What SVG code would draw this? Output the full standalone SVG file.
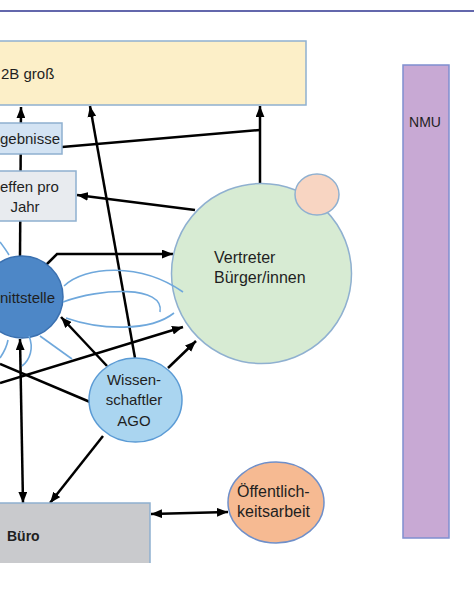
<svg xmlns="http://www.w3.org/2000/svg" width="474" height="608" viewBox="0 0 474 608">
<defs>
<marker id="ah" viewBox="0 0 10 8" refX="10" refY="4" markerWidth="11" markerHeight="9" markerUnits="userSpaceOnUse" orient="auto-start-reverse">
<path d="M0,0 L10,4 L0,8 Z" fill="#000"/>
</marker>
</defs>
<style>
text{font-family:"Liberation Sans",Arial,sans-serif;font-size:15px;fill:#1f1f1f}
.c{fill:none;stroke:#000;stroke-width:2.5}
.a{marker-end:url(#ah)}
.ab{marker-start:url(#ah);marker-end:url(#ah)}
.f{fill:none;stroke:#6fa8dc;stroke-width:1.6}
.bd{stroke:#8fb0d0;stroke-width:1.5}
.l{font-size:16px}
</style>
<rect width="474" height="608" fill="#fff"/>
<line x1="0" y1="11" x2="474" y2="11" stroke="#2f3590" stroke-width="1.6"/>
<g id="connectors">
<path class="c a" d="M20,257 L21,107"/>
<path class="c a" d="M260,184 L260,106"/>
<path class="c" d="M62,147 L260,130"/>
<path class="c a" d="M135,358 L90,106"/>
<path class="c a" d="M195,210 L77,195"/>
<path class="c a" d="M45,266 L57,254 L173,254"/>
<path class="c a" d="M107,366 L61,317"/>
<path class="c a" d="M0,383 L183,327"/>
<path class="c" d="M0,364 L90,402"/>
<path class="c ab" d="M20,339 L23,503"/>
<path class="c a" d="M103,436 L50,503"/>
<path class="c a" d="M168,368 L196,341"/>
<path class="c ab" d="M151,514 L228,512"/>
</g>
<g id="gruppe">
<rect x="-2" y="41" width="308" height="64" fill="#fcefc8" class="bd"/>
<text x="1" y="79">2B groß</text>
</g>
<g id="ergebnisse">
<rect x="-30" y="123" width="92" height="31" fill="#d3e3f3" class="bd"/>
<text x="0" y="144">gebnisse</text>
</g>
<g id="treffen">
<rect x="-30" y="171" width="106" height="50" fill="#e8ebef" class="bd"/>
<text x="0" y="192">effen pro</text>
<text x="25" y="212" text-anchor="middle">Jahr</text>
</g>
<g id="nmu">
<rect x="403" y="65" width="46" height="473" fill="#c8a9d4" stroke="#7f8fd0" stroke-width="1.5"/>
<text x="425" y="127" text-anchor="middle" style="font-size:14px">NMU</text>
</g>
<g id="vertreter">
<circle cx="261.5" cy="273.5" r="90" fill="#d7ebd3" class="bd"/>
<text class="l" x="214" y="263">Vertreter</text>
<text class="l" x="214" y="283">Bürger/innen</text>
</g>
<g id="peach">
<ellipse cx="317" cy="194.5" rx="22" ry="20.5" fill="#f8d5c2" class="bd"/>
</g>
<g id="schnittstelle">
<circle cx="22" cy="297" r="41" fill="#4d87c7" stroke="#3a70b0" stroke-width="1.5"/>
<text x="0" y="303">nittstelle</text>
<path class="f" d="M64,286 C85,266 140,262 183,292"/>
<path class="f" d="M63,302 C100,288 165,285 160,312"/>
<path class="f" d="M66,318 C100,330 150,332 174,313"/>
<path class="f" d="M40,336 L72,359"/>
<path class="f" d="M29,336 C34,348 30,360 22,366"/>
<path class="f" d="M0,358 C4,352 7,346 8,340"/>
<path class="f" d="M0,242 C3,246 6,250 9,255"/>
</g>
<g id="wissenschaftler">
<ellipse cx="135.5" cy="400" rx="46.5" ry="42" fill="#aad5f0" stroke="#5b9bd5" stroke-width="1.5"/>
<text x="134" y="385" text-anchor="middle">Wissen-</text>
<text x="134" y="405" text-anchor="middle">schaftler</text>
<text x="134" y="426" text-anchor="middle">AGO</text>
</g>
<g id="buero">
<rect x="-2" y="503" width="152" height="60" fill="#c9cacd"/>
<path d="M-2,503 H150 V563" fill="none" class="bd"/>
<text x="7" y="541" style="font-weight:bold;font-size:14px">Büro</text>
</g>
<g id="oeffentlichkeit">
<ellipse cx="276" cy="502.5" rx="48" ry="40.5" fill="#f6ba92" stroke="#6f8fc9" stroke-width="1.5"/>
<text class="l" x="237" y="497">Öffentlich-</text>
<text class="l" x="237" y="517">keitsarbeit</text>
</g>
</svg>
